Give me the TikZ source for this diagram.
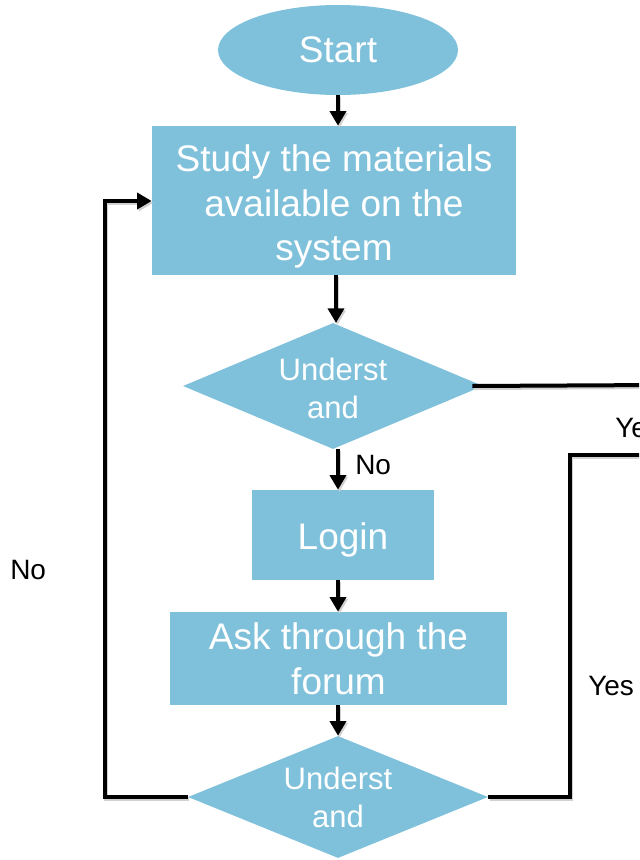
\documentclass[tikz,border=0pt]{standalone}
\usepackage{fontspec}
\setmainfont{Liberation Sans}
\usetikzlibrary{shapes.geometric,arrows.meta}
\newdimen\pxu \pxu=0.75pt
\definecolor{flowblue}{RGB}{127,193,219}
% centred lines of text, drawn lower by the given amount without changing the box size
\newcommand{\droptext}[2]{\raisebox{-#1}[\height][\depth]{\begin{tabular}{@{}c@{}}#2\end{tabular}}}
\tikzset{
  blk/.style={fill=flowblue, draw=none, text=white, inner sep=0pt, align=center,
    font=\fontsize{27.75}{33.4}\selectfont},
  procbox/.style={blk, rectangle},
  startbox/.style={blk, ellipse},
  decide/.style={blk, diamond, aspect=2.4, font=\fontsize{23.25}{28.5}\selectfont},
  link/.style={line width=3pt, black,
    preaction={draw=black!18, line width=3pt, transform canvas={shift={(1.1pt,-1.5pt)}}}},
  arr/.style={link, -{Triangle[width=12pt,length=11pt]}},
  lbl/.style={font=\fontsize{21}{25}\selectfont, inner sep=0pt, anchor=west}
}
\begin{document}
\begin{tikzpicture}[x=0.75pt, y=-0.75pt]
  \useasboundingbox (0,0) rectangle (639,860);
  \clip (0,0) rectangle (639,860);

  % shapes
  \node[startbox, minimum width=240\pxu, minimum height=90\pxu] (start) at (338,50)
    {\droptext{3pt}{Start}};
  \node[procbox, minimum width=364\pxu, minimum height=149\pxu] (study) at (334,200.5)
    {\droptext{5pt}{Study the materials\\available on the\\system}};
  \node[decide, minimum width=300\pxu, minimum height=126\pxu] (und1) at (333,386)
    {\droptext{4.5pt}{Underst\\and}};
  \node[procbox, minimum width=182\pxu, minimum height=90\pxu] (login) at (343,535)
    {\droptext{4.5pt}{Login}};
  \node[procbox, minimum width=337\pxu, minimum height=93\pxu] (ask) at (338.5,658.5)
    {Ask through the\\forum};
  \node[decide, minimum width=300\pxu, minimum height=122\pxu] (und2) at (338,797) {Underst\\and};

  % free ends beyond the right edge
  \coordinate (out1) at (660,385);
  \coordinate (turn) at (570,455);
  \coordinate (out2) at (660,455);
  \coordinate (back) at (105,201);

  % connectors
  \draw[arr] (start.south) -- (start.south |- study.north);
  \draw[arr] (336,275) -- (336,323);
  \draw[arr] (und1.south -| 338,0) -- (login.north -| 338,0);
  \draw[arr] (login.south -| 338,0) -- (ask.north -| 338,0);
  \draw[arr] (ask.south -| 338,0) -- (und2.north);

  \draw[link] ([xshift=-11\pxu]und1.east) -- (out1);
  \draw[arr] (und2.west) -| (back) -- (study.west |- back);
  \draw[link] (und2.east) -| (turn) -- (out2);

  % labels
  \node[lbl] (no1) at (355,465) {No};
  \node[lbl] (no2) at (10,570) {No};
  \node[lbl] (yes1) at (615,428) {Yes};
  \node[lbl] (yes2) at (588,686) {Yes};
\end{tikzpicture}
\end{document}
